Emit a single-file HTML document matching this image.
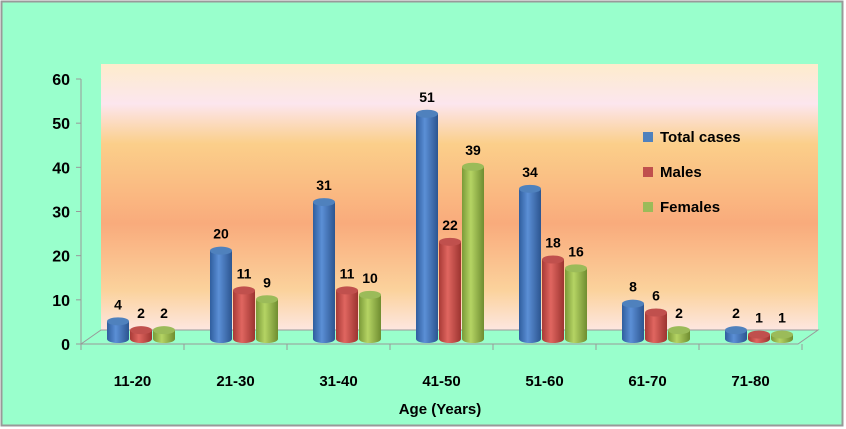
<!DOCTYPE html>
<html><head><meta charset="utf-8"><style>
body{margin:0;background:#fff}
svg{display:block;font-family:"Liberation Sans",sans-serif;font-weight:bold}
</style></head><body>
<svg width="846" height="429" viewBox="0 0 846 429">
<defs>
<linearGradient id="wall" x1="0" y1="0" x2="0" y2="1">
<stop offset="0" stop-color="#fdeccc"/><stop offset="0.15" stop-color="#fce6ee"/><stop offset="0.3" stop-color="#fbcf8a"/><stop offset="0.6" stop-color="#f9ab7c"/><stop offset="0.85" stop-color="#fbd29c"/><stop offset="1" stop-color="#fde6e0"/>
</linearGradient>
<linearGradient id="gb" x1="0" x2="1"><stop offset="0" stop-color="#2f5e9e"/><stop offset="0.4" stop-color="#5b8fd6"/><stop offset="1" stop-color="#2c5590"/></linearGradient>
<linearGradient id="gr" x1="0" x2="1"><stop offset="0" stop-color="#a83a36"/><stop offset="0.4" stop-color="#e06660"/><stop offset="1" stop-color="#9c3430"/></linearGradient>
<linearGradient id="gg" x1="0" x2="1"><stop offset="0" stop-color="#7a9a38"/><stop offset="0.4" stop-color="#b5d464"/><stop offset="1" stop-color="#6f8d30"/></linearGradient>
</defs>
<rect x="1.5" y="1.5" width="841" height="424" fill="#99ffcc" stroke="#999" stroke-width="2"/>
<rect x="101" y="64" width="717" height="266" fill="url(#wall)"/>
<path d="M81 344 L101 330 L818 330 L798 344 Z" fill="#99ffcc" stroke="#999"/>
<g id="axis" stroke="#999" fill="none"></g>
<g id="ylabels" font-size="16" fill="#000" text-anchor="end"></g>
<g id="bars"></g>
<g id="xlabels" font-size="15" fill="#000" text-anchor="middle"></g>
<text x="440" y="414" font-size="15" text-anchor="middle">Age (Years)</text>
<g font-size="15">
<rect x="643" y="132" width="10" height="10" fill="#4f81bd"/>
<text x="660" y="142">Total cases</text>
<rect x="643" y="167" width="10" height="10" fill="#c0504d"/>
<text x="660" y="177">Males</text>
<rect x="643" y="202" width="10" height="10" fill="#9bbb59"/>
<text x="660" y="212">Females</text>
</g>
</svg>
<script>
const categories=["11-20","21-30","31-40","41-50","51-60","61-70","71-80"];
const totalCases=[4,20,31,51,34,8,2];
const males=[2,11,11,22,18,6,1];
const females=[2,9,10,39,16,2,1];
const yTicks=[0,10,20,30,40,50,60];
const NS="http://www.w3.org/2000/svg";
const y0=344,yMax=60,ppu=265/60;
const yAxis=v=>y0-v*ppu;
const x0=81,step=103;
const xCat=i=>x0+step*i;
const barBase=339;
function mk(tag,attrs,parent){const e=document.createElementNS(NS,tag);for(const k in attrs)e.setAttribute(k,attrs[k]);parent.appendChild(e);return e;}
const ax=document.getElementById('axis');
const axl=mk('line',{x1:81,y1:79,x2:81,y2:344},ax);


const axb=mk('line',{x1:81,y1:344,x2:798,y2:344},ax);


const yl=document.getElementById('ylabels');
yTicks.forEach(v=>{
  mk('line',{x1:76,y1:yAxis(v),x2:81,y2:yAxis(v)},ax);
  const t=mk('text',{x:70,y:yAxis(v)+6},yl);t.textContent=v;
  
  
});
const xl=document.getElementById('xlabels');
const bars=document.getElementById('bars');
const series=[[totalCases,'url(#gb)','#4f81bd','total'],[males,'url(#gr)','#c0504d','males'],[females,'url(#gg)','#9bbb59','females']];
categories.forEach((c,i)=>{
  mk('line',{x1:xCat(i),y1:344,x2:xCat(i),y2:350},ax);
  mk('line',{x1:xCat(i+1),y1:344,x2:xCat(i+1),y2:350},ax);
  const t=mk('text',{x:xCat(i)+step/2,y:386},xl);t.textContent=c;
  
  
  series.forEach((s,j)=>{
    const v=s[0][i];const w=22;const bx=xCat(i)+26+j*23;const top=barBase-v*ppu;const ry=4;
    const g=mk('g',{},bars);
    
    
    mk('path',{d:`M${bx} ${top} L${bx} ${barBase} A${w/2} ${ry} 0 0 0 ${bx+w} ${barBase} L${bx+w} ${top} Z`,fill:s[1]},g);
    mk('ellipse',{cx:bx+w/2,cy:top,rx:w/2,ry:ry,fill:s[2]},g);
    const lt=mk('text',{x:bx+w/2,y:top-12,'font-size':14,'text-anchor':'middle'},bars);
    lt.textContent=v;
    
    
  });
});
</script>
</body></html>
